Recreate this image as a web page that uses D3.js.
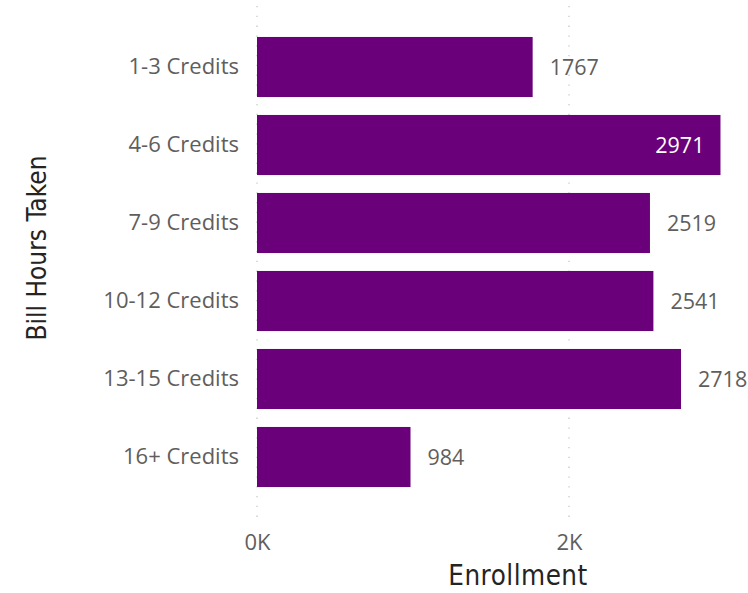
<!DOCTYPE html>
<html>
<head>
<meta charset="utf-8">
<script src="https://cdn.jsdelivr.net/npm/d3@7"></script>
<style>
  body { margin: 0; background: #fff; }
  svg { display: block; }
</style>
</head>
<body>
<svg id="chart" width="748" height="593"></svg>
<script>
// Enrollment by bill hours taken
const categories = ["1-3 Credits", "4-6 Credits", "7-9 Credits", "10-12 Credits", "13-15 Credits", "16+ Credits"];
const enrollment = [1767, 2971, 2519, 2541, 2718, 984];
const xTickValues = [0, 2000];
const xTickLabels = ["0K", "2K"];

const data = categories.map((c, i) => ({ category: c, value: enrollment[i] }));

const svg = d3.select("#chart");
const barColor = "#6B007B";
const labelFont = "'Open Sans', 'Noto Sans', sans-serif";
const titleFont = "'DejaVu Sans Condensed', 'DejaVu Sans', sans-serif";
const labelSize = 22;

const x = d3.scaleLinear().domain([0, 2000]).range([257, 569]);
const y = d3.scaleBand().domain(categories).range([28, 496]).paddingInner(0.23).paddingOuter(0.115);

// dotted vertical gridlines
svg.append("g").selectAll("line")
  .data(xTickValues)
  .join("line")
  .attr("x1", d => x(d)).attr("x2", d => x(d))
  .attr("y1", 6).attr("y2", 520)
  .attr("stroke", "#c8c8c8")
  .attr("stroke-width", 1.3)
  .attr("stroke-dasharray", "1.3,8.5");

// bars
svg.append("g").selectAll("rect")
  .data(data)
  .join("rect")
  .attr("x", x(0))
  .attr("y", d => y(d.category))
  .attr("width", d => x(d.value) - x(0))
  .attr("height", y.bandwidth())
  .attr("fill", barColor);

// category axis
const yAxis = svg.append("g")
  .attr("transform", `translate(${x(0)},0)`)
  .call(d3.axisLeft(y).tickSize(0).tickPadding(18));
yAxis.select(".domain").remove();
yAxis.selectAll("text")
  .attr("font-family", labelFont)
  .attr("font-size", labelSize)
  .attr("fill", "#605E5C");

// value axis
const xAxis = svg.append("g")
  .attr("transform", "translate(0,530)")
  .call(d3.axisBottom(x).tickValues(xTickValues).tickFormat((d, i) => xTickLabels[i]).tickSize(0).tickPadding(4));
xAxis.select(".domain").remove();
xAxis.selectAll("text")
  .attr("font-family", labelFont)
  .attr("font-size", labelSize)
  .attr("fill", "#605E5C");

// data labels: inside the bar when they would run past the right edge
const plotRight = 748;
svg.append("g").selectAll("text")
  .data(data)
  .join("text")
  .attr("font-family", labelFont)
  .attr("font-size", 21.5)
  .attr("dy", "0.35em")
  .attr("y", d => y(d.category) + y.bandwidth() / 2)
  .each(function(d) {
    const end = x(d.value);
    const inside = end + 17 + 49 > plotRight;
    d3.select(this)
      .attr("x", inside ? end - 16 : end + 17)
      .attr("text-anchor", inside ? "end" : "start")
      .attr("fill", inside ? "#ffffff" : "#605E5C")
      .text(d.value);
  });

// axis titles
svg.append("text")
  .attr("x", 518).attr("y", 585)
  .attr("text-anchor", "middle")
  .attr("font-family", titleFont)
  .attr("font-size", 27.5)
  .attr("letter-spacing", 0.5)
  .attr("fill", "#252423")
  .text("Enrollment");

svg.append("text")
  .attr("transform", "translate(46,248) rotate(-90)")
  .attr("text-anchor", "middle")
  .attr("font-family", titleFont)
  .attr("font-size", 26)
  .attr("fill", "#252423")
  .text("Bill Hours Taken");
</script>
</body>
</html>
